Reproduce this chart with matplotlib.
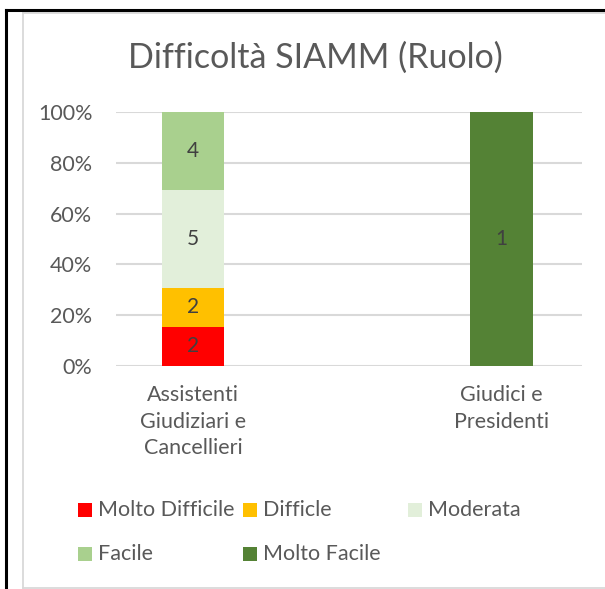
import numpy as np
import matplotlib.pyplot as plt
from matplotlib.patches import Rectangle
from matplotlib.lines import Line2D

plt.rcParams['font.family'] = ['Lato', 'DejaVu Sans']

categories = ['Assistenti\nGiudiziari e\nCancellieri', 'Giudici e\nPresidenti']
levels = ['Molto Difficile', 'Difficle', 'Moderata', 'Facile', 'Molto Facile']
colors = ['#FF0000', '#FFC000', '#E2EFDA', '#A9D08E', '#548235']
counts = {
    'Molto Difficile': [2, 0],
    'Difficle': [2, 0],
    'Moderata': [5, 0],
    'Facile': [4, 0],
    'Molto Facile': [0, 1],
}

W, H = 605, 589
fig = plt.figure(figsize=(W / 100, H / 100), dpi=100)

# outer frames
g = '#d9d9d9'
fig.add_artist(Line2D([22.5 / W, 22.5 / W], [1 - 588 / H, 1 - 13 / H], color=g, lw=1.3))
fig.add_artist(Line2D([22.5 / W, 1], [1 - 13 / H, 1 - 13 / H], color=g, lw=1.3))
fig.add_artist(Line2D([22.5 / W, 1], [1 - 587.5 / H, 1 - 587.5 / H], color=g, lw=1.3))
fig.add_artist(Line2D([6 / W, 6 / W], [0, 1 - 10 / H], color='black', lw=2.2))
fig.add_artist(Line2D([6 / W, 1], [1 - 10 / H, 1 - 10 / H], color='black', lw=2.2))

ax = fig.add_axes([116 / W, 1 - 366 / H, (582 - 116) / W, (366 - 112) / H])

x = np.arange(len(categories))
totals = np.sum([counts[k] for k in levels], axis=0)
bottom = np.zeros(len(categories))
for lev, col in zip(levels, colors):
    vals = np.array(counts[lev], dtype=float)
    frac = vals / totals
    ax.bar(x, frac, 0.203, bottom=bottom, color=col, zorder=3)
    for i in range(len(x)):
        if vals[i] > 0:
            ax.text(x[i], bottom[i] + frac[i] / 2, '%d' % vals[i], ha='center', va='center',
                    fontsize=15, color='#404040', zorder=4)
    bottom += frac

ax.set_xlim(-0.25, 1.26)
ax.set_ylim(0, 1)
ax.set_yticks(np.arange(0, 1.01, 0.2))
ax.set_yticklabels(['%d%%' % v for v in range(0, 101, 20)])
ax.yaxis.grid(True, color=g, lw=1.5, zorder=0)
ax.set_xticks(x)
ax.set_xticklabels(categories, linespacing=1.38)
for s in ax.spines.values():
    s.set_visible(False)
ax.tick_params(axis='both', length=0, labelsize=15.5, labelcolor='#595959')
ax.tick_params(axis='x', pad=14)
ax.tick_params(axis='y', pad=17)
ax.set_axisbelow(True)

fig.text(315 / W, 1 - 58 / H, 'Difficoltà SIAMM (Ruolo)', ha='center', va='center',
         fontsize=24.5, color='#595959')

# legend
pos = [(78, 510), (243, 510), (408, 510), (78, 554), (243, 554)]
for (px, py), lev, col in zip(pos, levels, colors):
    fig.add_artist(Rectangle((px / W, 1 - (py + 7) / H), 14 / W, 14 / H,
                             facecolor=col, edgecolor='none'))
    fig.text((px + 20) / W, 1 - py / H, lev, ha='left', va='center',
             fontsize=15.5, color='#595959')

fig.savefig('out.png', dpi=100)
